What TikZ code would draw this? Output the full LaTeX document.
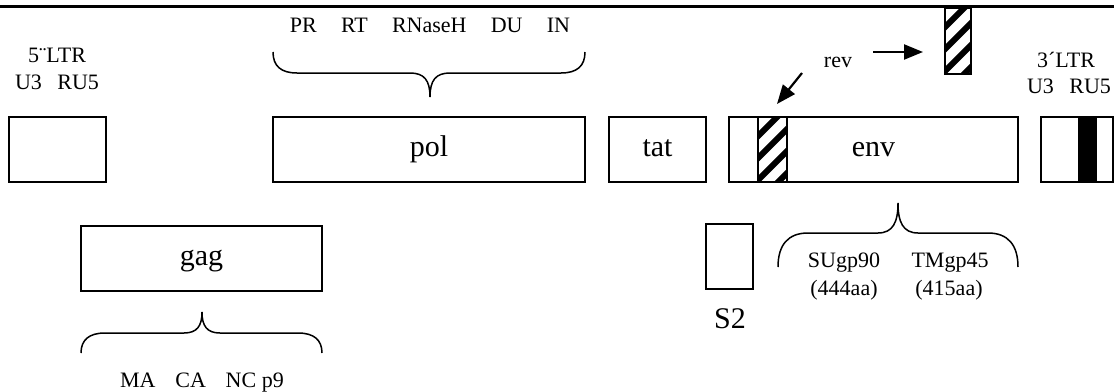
\documentclass[tikz,border=0pt]{standalone}
\usepackage{fontspec}
\setmainfont{Liberation Serif}
\usetikzlibrary{arrows.meta}
\begin{document}
\begin{tikzpicture}[x=1pt,y=-1pt,
  gene/.style={draw, line width=1.4pt, inner sep=0pt, minimum height=65pt,
    font=\fontsize{30}{32}\selectfont, text height=20pt, text depth=6pt},
  bigtext/.style={inner sep=0pt, anchor=base, font=\fontsize{30}{32}\selectfont},
  small/.style={inner sep=0pt, anchor=base, font=\fontsize{22}{24}\selectfont},
  bracepath/.style={line width=1.5pt},
  hatchline/.style={line width=6pt},
  hatchframe/.style={line width=1.3pt},
  revarrow/.style={line width=2.2pt, -{Triangle[length=19pt,width=15pt]}}
]
\useasboundingbox (0,0) rectangle (1114,391);

% top rule
\draw[line width=3.3pt] (0,6.7) -- (1114,6.7);

% genome boxes
\node[gene, minimum width=97pt]  (ltr5) at (57.5,149.5) {};
\node[gene, minimum width=312pt] (pol)  at (429,149.5) {pol};
\node[gene, minimum width=97pt]  (tat)  at (657.5,149.5) {tat};
\node[gene, minimum width=289pt] (env)  at (873.5,149.5) {env};
\node[gene, minimum width=241pt] (gag)  at (201.5,258.5) {gag};
\node[gene, minimum width=47pt]  (s2)   at (729.5,256.5) {};
\node[bigtext] (s2lab) at (730,328) {S2};

% 3' LTR box with black stripe
\fill (1078,117) rectangle (1097,183);
\node[gene, minimum width=72pt] (ltr3) at (1077,149.5) {};

% hatched rev exon inside env
\fill[white] (758,117) rectangle (787,182);
\begin{scope}
  \clip (758,117) rectangle (787,182);
  \foreach \k in {0,...,4} \draw[hatchline] (755,117+22*\k) -- ++(35,-35);
\end{scope}
\draw[hatchframe] (758,117) rectangle (787,182);

% hatched rev exon at top
\begin{scope}
  \clip (945,8) rectangle (971,74);
  \foreach \k in {0,...,4} \draw[hatchline] (942,8+22*\k) -- ++(32,-32);
\end{scope}
\draw[hatchframe] (945,8) rectangle (971,74);

% rev label and arrows
\node[small] (revlab) at (838,67) {rev};
\coordinate (r1s) at (873,52);
\coordinate (r1e) at (923,52);
\coordinate (r2s) at (802,73);
\coordinate (r2e) at (777,104);
\draw[revarrow] (r1s) -- (r1e);
\draw[revarrow] (r2s) -- (r2e);

% LTR labels
\node[small] (l5a) at (57,62) {5¨LTR};
\node[small] (l5b) at (57,89) {U3\hspace{0.7em}RU5};
\node[small] (l3a) at (1066,67) {3´LTR};
\node[small] (l3b) at (1069,93) {U3\hspace{0.7em}RU5};

% pol brace and products
\node[small] (polprod) at (430,32) {PR\hspace{1.1em}RT\hspace{1.1em}RNaseH\hspace{1.1em}DU\hspace{1.1em}IN};
\draw[bracepath] (273,52) .. controls (273,66) and (281,73) .. (297,73) -- (410,73)
  .. controls (424,73) and (430,80) .. (430,97)
  .. controls (430,80) and (436,73) .. (450,73) -- (561,73)
  .. controls (577,73) and (585,66) .. (585,52);

% gag brace and products
\draw[bracepath] (81,353) .. controls (81,340) and (89,333) .. (105,333) -- (184,333)
  .. controls (197,333) and (202,326) .. (202,312)
  .. controls (202,326) and (207,333) .. (220,333) -- (298,333)
  .. controls (314,333) and (322,340) .. (322,353);
\node[small] (gagprod) at (202,387) {MA\hspace{0.9em}CA\hspace{0.9em}NC p9};

% env brace and products
\draw[bracepath] (778,267) .. controls (778,245) and (788,233) .. (808,233) -- (878,233)
  .. controls (893,233) and (898,222) .. (898,203)
  .. controls (898,222) and (903,233) .. (918,233) -- (988,233)
  .. controls (1008,233) and (1018,245) .. (1018,267);
\node[small] (su)  at (844,267) {SUgp90};
\node[small] (sua) at (844,295) {(444aa)};
\node[small] (tm)  at (950,267) {TMgp45};
\node[small] (tma) at (949,295) {(415aa)};
\end{tikzpicture}
\end{document}
